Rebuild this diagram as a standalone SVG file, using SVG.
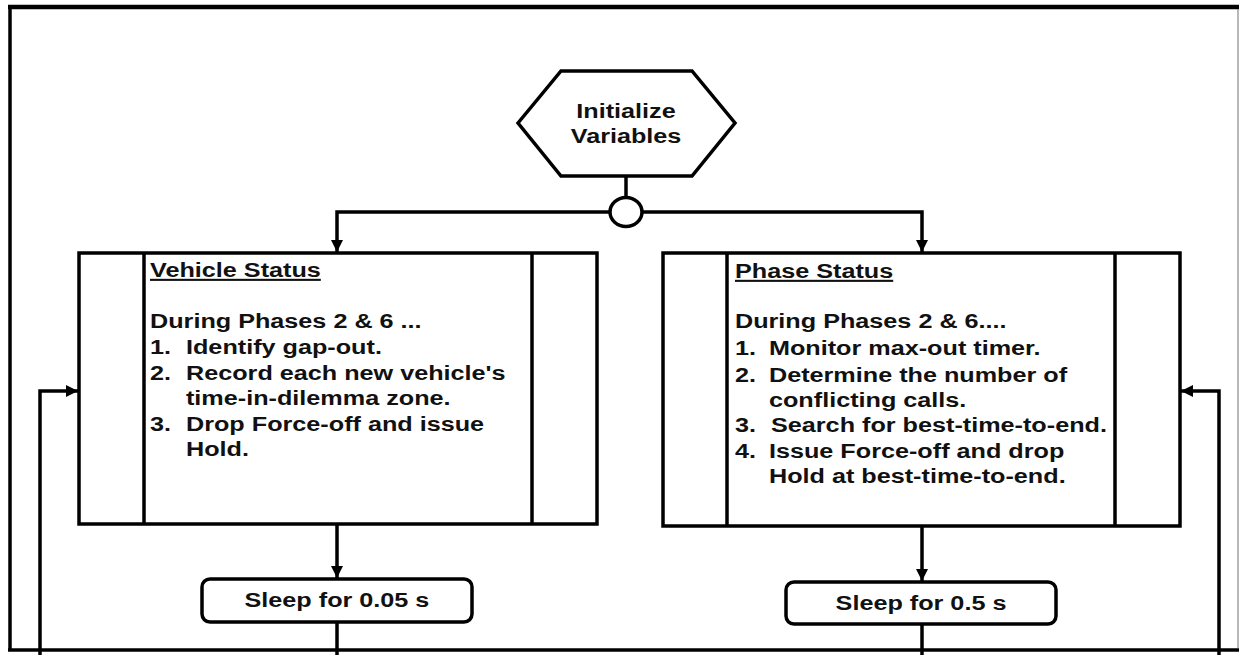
<svg xmlns="http://www.w3.org/2000/svg" width="1239" height="655" viewBox="0 0 1239 655">
<style>
.ln{fill:none;stroke:#000;stroke-width:3.5}
.bx{fill:#fff;stroke:#000;stroke-width:3.5}
.t{font-family:"Liberation Sans",Arial,sans-serif;font-weight:bold;font-size:21px;fill:#111}
.c{text-anchor:middle}
</style>
<defs>
<marker id="ah" markerUnits="userSpaceOnUse" markerWidth="14" markerHeight="12" refX="12" refY="6" orient="auto">
<path d="M0,0 L12,6 L0,12 Z" fill="#000"/>
</marker>
</defs>
<rect width="1239" height="655" fill="#fff"/>
<g id="frame">
<line x1="8" y1="7" x2="1239" y2="7" stroke="#000" stroke-width="4.5"/>
<line x1="10" y1="5" x2="10" y2="651" stroke="#000" stroke-width="3.5"/>
<line x1="8" y1="650" x2="1239" y2="650" stroke="#000" stroke-width="3.5"/>
<line x1="1238" y1="9" x2="1238" y2="648" stroke="#888" stroke-width="1.2"/>
</g>
<g id="connectors">
<line class="ln" x1="626" y1="176" x2="626" y2="197"/>
<polyline class="ln" points="610,212 337,212 337,252" marker-end="url(#ah)"/>
<polyline class="ln" points="642,212 922,212 922,252" marker-end="url(#ah)"/>
<line class="ln" x1="337" y1="524" x2="337" y2="578" marker-end="url(#ah)"/>
<line class="ln" x1="922" y1="526" x2="922" y2="581" marker-end="url(#ah)"/>
<line class="ln" x1="337" y1="622" x2="337" y2="655"/>
<line class="ln" x1="922" y1="624" x2="922" y2="655"/>
<polyline class="ln" points="40,655 40,391 78,391" marker-end="url(#ah)"/>
<polyline class="ln" points="1219,655 1219,391 1181,391" marker-end="url(#ah)"/>
</g>
<g id="init">
<polygon class="bx" points="518,123 561,71 692,71 735,123 692,176 561,176"/>
<g transform="scale(1.2,1)">
<text class="t c" x="521.7" y="118">Initialize</text>
<text class="t c" x="521.7" y="143">Variables</text>
</g>
</g>
<g id="junction">
<ellipse class="bx" cx="626" cy="212" rx="16" ry="14.5"/>
</g>
<g id="vehicle">
<rect class="bx" x="79" y="253" width="518" height="271"/>
<line class="ln" x1="144" y1="253" x2="144" y2="524"/>
<line class="ln" x1="532" y1="253" x2="532" y2="524"/>
<g transform="scale(1.2,1)">
<text class="t" x="125" y="277" text-decoration="underline">Vehicle Status</text>
<text class="t" x="125" y="328">During Phases 2 &amp; 6 ...</text>
<text class="t" x="125" y="354.5">1.</text><text class="t" x="155" y="354.5">Identify  gap-out.</text>
<text class="t" x="125" y="380">2.</text><text class="t" x="155" y="380">Record each new vehicle's</text>
<text class="t" x="155" y="405.5">time-in-dilemma  zone.</text>
<text class="t" x="125" y="431">3.</text><text class="t" x="155" y="431">Drop Force-off and issue</text>
<text class="t" x="155" y="456.5">Hold.</text>
</g>
</g>
<g id="phase">
<rect class="bx" x="663" y="253" width="517" height="273"/>
<line class="ln" x1="727" y1="253" x2="727" y2="526"/>
<line class="ln" x1="1115" y1="253" x2="1115" y2="526"/>
<g transform="scale(1.2,1)">
<text class="t" x="612.5" y="278" text-decoration="underline">Phase Status</text>
<text class="t" x="612.5" y="328">During Phases 2 &amp; 6....</text>
<text class="t" x="612.5" y="355.5">1.</text><text class="t" x="640.8" y="355.5">Monitor max-out timer.</text>
<text class="t" x="612.5" y="382">2.</text><text class="t" x="640.8" y="382">Determine the number of</text>
<text class="t" x="640.8" y="407">conflicting  calls.</text>
<text class="t" x="612.5" y="432">3.</text><text class="t" x="642.5" y="432">Search for best-time-to-end.</text>
<text class="t" x="612.5" y="458">4.</text><text class="t" x="640.8" y="458">Issue Force-off and drop</text>
<text class="t" x="640.8" y="483.5">Hold at best-time-to-end.</text>
</g>
</g>
<g id="sleep1">
<rect class="bx" x="202" y="579" width="270" height="43" rx="8"/>
<g transform="scale(1.2,1)"><text class="t c" x="280.8" y="607">Sleep for 0.05 s</text></g>
</g>
<g id="sleep2">
<rect class="bx" x="786" y="582" width="270" height="42" rx="8"/>
<g transform="scale(1.2,1)"><text class="t c" x="767.5" y="610.5">Sleep for 0.5 s</text></g>
</g>
</svg>
